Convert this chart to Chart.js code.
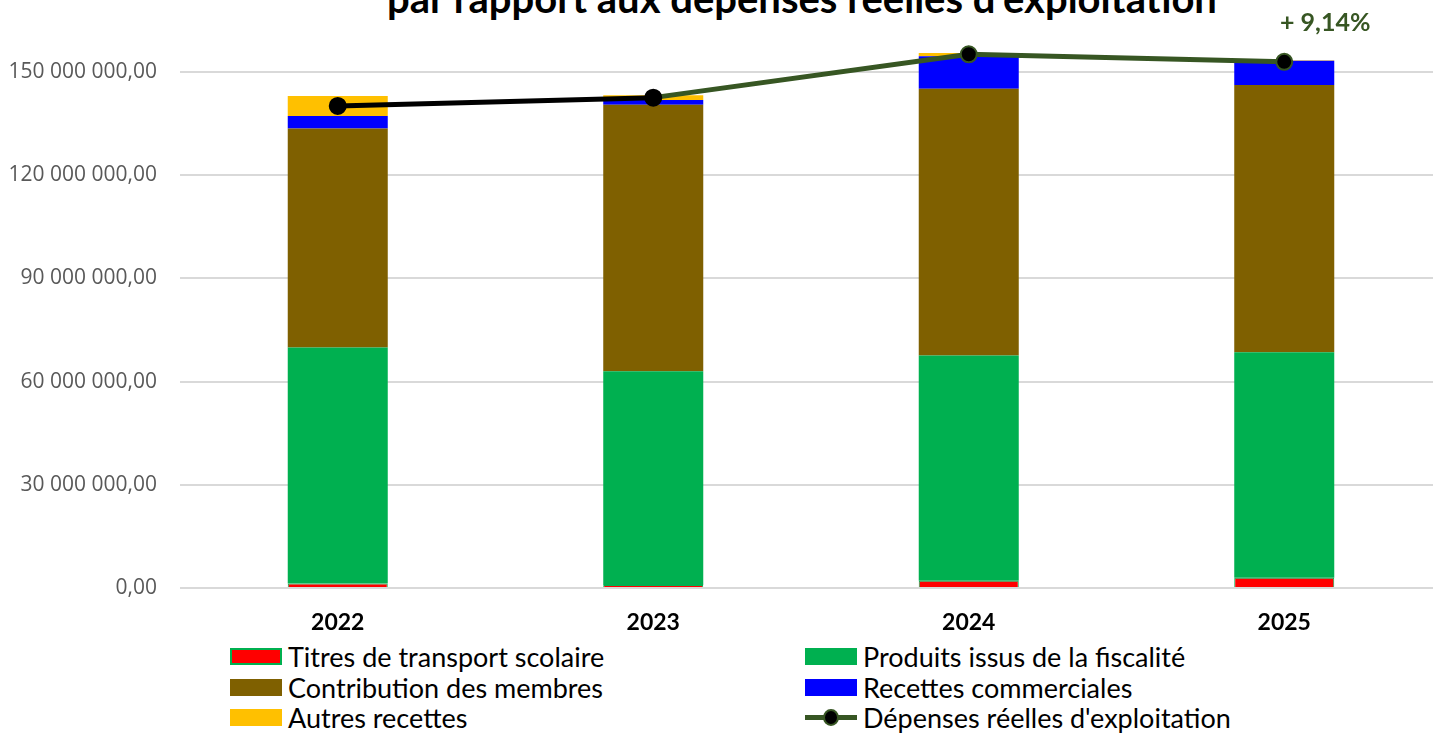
<!DOCTYPE html>
<html lang="fr">
<head>
<meta charset="utf-8">
<title>Recettes et dépenses réelles d'exploitation</title>
<script src="https://cdn.jsdelivr.net/npm/chart.js@4.4.1/dist/chart.umd.min.js"></script>
<style>
    html, body { margin: 0; padding: 0; background: #fff; overflow: hidden; }
    body { width: 1433px; height: 733px; position: relative; }
    #chartBox { position: absolute; left: 0; top: -67px; width: 1452px; height: 705px; }
    .chart-title {
        position: absolute; left: 180px; width: 1244px; top: -22px;
        text-align: center; font: bold 40px Lato, sans-serif; line-height: 40px; color: #000;
        white-space: nowrap;
    }
    .legend { position: absolute; left: 0; top: 0; font: 27px Lato, sans-serif; color: #000; }
    .legend-item { position: absolute; display: flex; align-items: center; height: 30px; white-space: nowrap; }
    .legend-box { width: 52px; height: 17px; margin-right: 6px; box-sizing: border-box; }
    .legend-line { position: relative; width: 52px; height: 17px; margin-right: 6px; }
    .legend-line::before { content: ''; position: absolute; left: 0; right: 0; top: 6px; height: 5px; background: #375623; }
    .legend-line::after {
        content: ''; position: absolute; left: 18px; top: 0; width: 12px; height: 13px;
        border: 2px solid #375623; border-radius: 50%; background: #000;
    }
</style>
</head>
<body>
<div class="chart-title">par rapport aux dépenses réelles d'exploitation</div>
<div id="chartBox"><canvas id="recettesChart" width="1452" height="705"></canvas></div>
<div class="legend" id="legend"></div>

<script>
// Années
const annees = ['2022', '2023', '2024', '2025'];

// Recettes réelles d'exploitation (en euros)
const titresTransport = [1300000, 900000, 2100000, 3000000];
const produitsFiscalite = [68600000, 62100000, 65500000, 65500000];
const contributionMembres = [63600000, 77400000, 77500000, 77700000];
const recettesCommerciales = [3700000, 1400000, 9400000, 7000000];
const autresRecettes = [5800000, 1400000, 1000000, 200000];

// Dépenses réelles d'exploitation
const depensesExploitation = [140100000, 142500000, 155100000, 152900000];

const evolutionLabel = '+ 9,14%';

const formatEuros = v => Math.round(v).toString().replace(/\B(?=(\d{3})+(?!\d))/g, ' ') + ',00';

// Texte d'évolution au-dessus du dernier point
const evolutionPlugin = {
    id: 'evolution',
    afterDatasetsDraw(chart) {
        const meta = chart.getDatasetMeta(5);
        const last = meta.data[meta.data.length - 1];
        if (!last) return;
        const ctx = chart.ctx;
        ctx.save();
        ctx.font = 'bold 25px Lato, sans-serif';
        ctx.fillStyle = '#375623';
        ctx.textAlign = 'center';
        ctx.textBaseline = 'alphabetic';
        ctx.fillText(evolutionLabel, last.x + 41, last.y - 31);
        ctx.restore();
    }
};

const ctx = document.getElementById('recettesChart').getContext('2d');
const chart = new Chart(ctx, {
    type: 'bar',
    data: {
        labels: annees,
        datasets: [
            { label: 'Titres de transport scolaire', data: titresTransport, backgroundColor: '#FF0000', borderColor: '#00B050', borderWidth: 1, stack: 'recettes' },
            { label: 'Produits issus de la fiscalité', data: produitsFiscalite, backgroundColor: '#00B050', stack: 'recettes' },
            { label: 'Contribution des membres', data: contributionMembres, backgroundColor: '#7F6000', stack: 'recettes' },
            { label: 'Recettes commerciales', data: recettesCommerciales, backgroundColor: '#0000FF', stack: 'recettes' },
            { label: 'Autres recettes', data: autresRecettes, backgroundColor: '#FFC000', stack: 'recettes' },
            {
                type: 'line',
                label: "Dépenses réelles d'exploitation",
                data: depensesExploitation,
                stack: 'depenses',
                order: -1,
                borderColor: '#375623',
                borderWidth: 5,
                segment: { borderColor: c => c.p0DataIndex === 0 ? '#000000' : '#375623' },
                pointRadius: 8,
                pointHoverRadius: 8,
                pointBackgroundColor: '#000000',
                pointBorderColor: ['#000000', '#000000', '#375623', '#375623'],
                pointBorderWidth: 2,
                tension: 0
            }
        ]
    },
    options: {
        responsive: false,
        animation: false,
        layout: { padding: 0 },
        datasets: { bar: { categoryPercentage: 1, barPercentage: 0.317 } },
        plugins: {
            legend: { display: false },
            tooltip: { enabled: false }
        },
        scales: {
            x: {
                stacked: true,
                grid: { display: false },
                border: { display: false },
                ticks: { color: '#000', font: { family: 'Lato', size: 23, weight: 'bold' }, padding: 13 },
                afterFit: s => { s.height = 50; }
            },
            y: {
                stacked: true,
                min: 0,
                max: 180000000,
                grid: { color: '#D9D9D9', lineWidth: 2, drawTicks: false },
                border: { display: false },
                ticks: {
                    stepSize: 30000000,
                    color: '#595959',
                    padding: 23,
                    font: { family: 'Open Sans', size: 21 },
                    callback: v => formatEuros(v)
                },
                afterFit: s => { s.width = 180; }
            }
        }
    },
    plugins: [evolutionPlugin]
});

// Légende sur deux colonnes, construite à partir des séries du graphique
const legendEl = document.getElementById('legend');
const colX = [230, 805];
const rowY = [641, 672, 702];
chart.data.datasets.forEach((ds, i) => {
    const item = document.createElement('div');
    item.className = 'legend-item';
    item.style.left = colX[i % 2] + 'px';
    item.style.top = rowY[Math.floor(i / 2)] + 'px';
    const mark = document.createElement('span');
    if (ds.type === 'line') {
        mark.className = 'legend-line';
    } else {
        mark.className = 'legend-box';
        mark.style.background = ds.backgroundColor;
        if (ds.borderWidth) mark.style.border = '2px solid ' + ds.borderColor;
    }
    const text = document.createElement('span');
    text.textContent = ds.label;
    item.appendChild(mark);
    item.appendChild(text);
    legendEl.appendChild(item);
});
</script>
</body>
</html>
